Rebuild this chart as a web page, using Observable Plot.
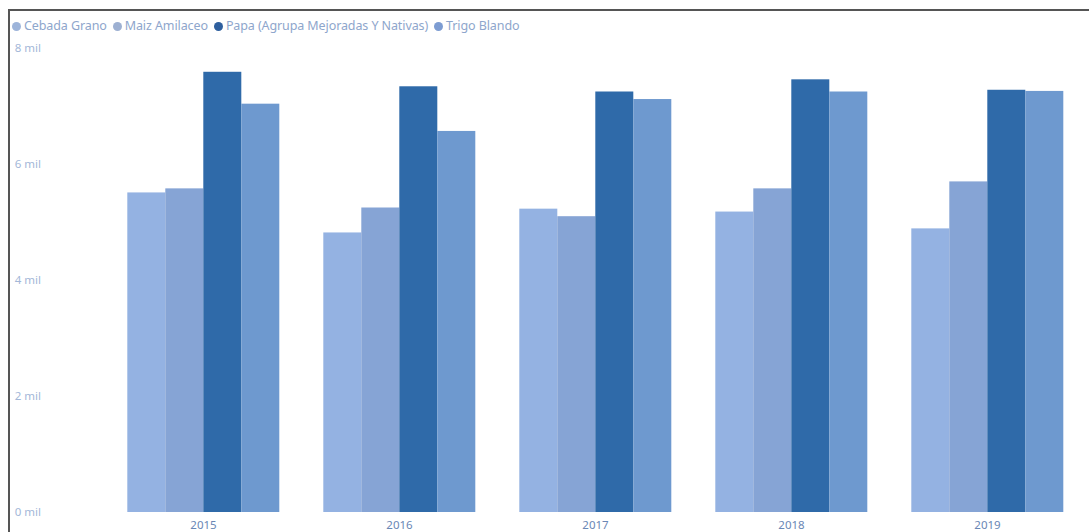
<!DOCTYPE html>
<html>
<head>
<meta charset="utf-8">
<script src="https://cdn.jsdelivr.net/npm/d3@7"></script>
<script src="https://cdn.jsdelivr.net/npm/@observablehq/plot@0.6"></script>
<style>
  html, body { margin: 0; padding: 0; background: #fff; width: 1089px; height: 532px; overflow: hidden; position: relative; }
  #frame { position: absolute; left: 8px; top: 9px; width: 1100px; height: 600px; border-top: 2px solid #555; border-left: 2px solid #555; }
  #legend { position: absolute; left: 12px; top: 17px; font-family: "Noto Sans", sans-serif; font-size: 12.5px; color: #8ea6cc; white-space: nowrap; letter-spacing: -0.1px; }
  #legend span.item { margin-right: 6px; }
  #legend span.dot { display: inline-block; width: 9px; height: 9px; border-radius: 50%; margin-right: 3px; vertical-align: -1px; }
  #chart { position: absolute; left: 0; top: 40px; }
</style>
</head>
<body>
<div id="frame"></div>
<div id="legend"></div>
<div id="chart"></div>
<script>
const years = ["2015", "2016", "2017", "2018", "2019"];
const seriesNames = ["Cebada Grano", "Maiz Amilaceo", "Papa (Agrupa Mejoradas Y Nativas)", "Trigo Blando"];
const seriesColors = ["#94b2e2", "#86a4d5", "#2f6aa9", "#6e99cf"];
const legendDotColors = ["#9db4da", "#9db0d2", "#2e5f9e", "#7d9cd2"];
const cebada = [5510, 4820, 5230, 5180, 4890];
const maiz   = [5580, 5250, 5100, 5580, 5700];
const papa   = [7590, 7340, 7250, 7460, 7280];
const trigo  = [7040, 6570, 7120, 7250, 7260];
const yTicks = [0, 2000, 4000, 6000, 8000];

const seriesValues = [cebada, maiz, papa, trigo];
const data = [];
years.forEach((y, i) => {
  seriesNames.forEach((s, j) => data.push({year: y, series: s, value: seriesValues[j][i]}));
});

// legend
const legend = document.getElementById("legend");
seriesNames.forEach((s, j) => {
  const item = document.createElement("span");
  item.className = "item";
  const dot = document.createElement("span");
  dot.className = "dot";
  dot.style.background = legendDotColors[j];
  item.appendChild(dot);
  item.appendChild(document.createTextNode(s));
  legend.appendChild(item);
});

const chart = Plot.plot({
  width: 1089,
  height: 492,
  marginLeft: 104.7,
  marginRight: 4.3,
  marginTop: 8,
  marginBottom: 20,
  style: { fontFamily: "Noto Sans, sans-serif", background: "transparent" },
  fx: { domain: years, paddingInner: 0.224, paddingOuter: 0.112, label: null },
  x: { domain: seriesNames, padding: 0, axis: null },
  y: { domain: [0, 8000], axis: null },
  color: { domain: seriesNames, range: seriesColors },
  marks: [
    Plot.barY(data, { fx: "year", x: "series", y: "value", fill: "series" }),
    Plot.axisFx({ anchor: "bottom", tickSize: 0, tickPadding: 8, label: null, fontSize: 11.5, color: "#6a87b5" }),
    Plot.axisY({ anchor: "left", ticks: yTicks, tickSize: 0, tickFormat: d => (d / 1000) + " mil", textAnchor: "start", dx: -103.7, label: null, fontSize: 11.5, color: "#a3b7d8" })
  ]
});
document.getElementById("chart").appendChild(chart);
</script>
</body>
</html>
